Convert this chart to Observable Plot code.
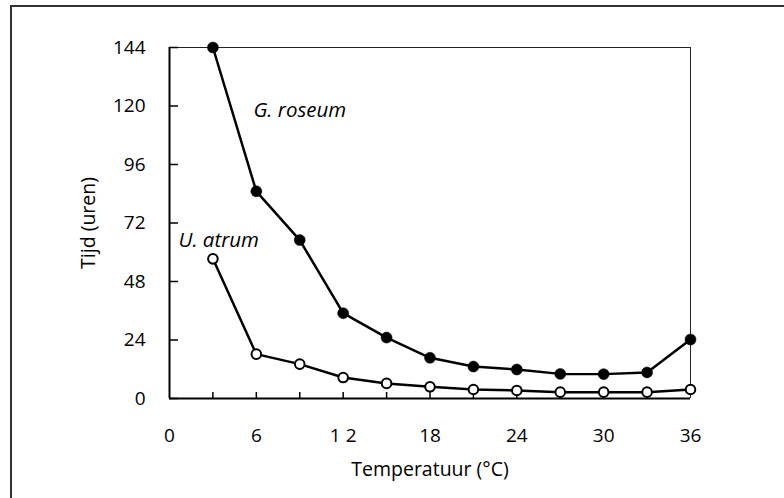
<!DOCTYPE html>
<html>
<head>
<meta charset="utf-8">
<script src="https://cdn.jsdelivr.net/npm/d3@7"></script>
<script src="https://cdn.jsdelivr.net/npm/@observablehq/plot@0.6"></script>
<style>
  html, body { margin: 0; padding: 0; background: #fff; overflow: hidden; }
  #wrap { position: relative; width: 784px; height: 498px; overflow: hidden; }
  #border { position: absolute; left: 10px; top: 5px; width: 900px; height: 700px;
            border-top: 2px solid #333; border-left: 2px solid #333; pointer-events: none; }
  #chart svg { display: block; }
</style>
</head>
<body>
<div id="wrap"><div id="chart"></div><div id="border"></div></div>
<script>
const temperature = [3, 6, 9, 12, 15, 18, 21, 24, 27, 30, 33, 36];
const gRoseum = [144, 85, 65, 35, 25, 16.7, 13.1, 11.9, 10.1, 10, 10.7, 24.2];
const uAtrum = [57.3, 18.2, 14.1, 8.6, 6.2, 4.8, 3.7, 3.3, 2.6, 2.6, 2.6, 3.7];
const xTicks = [0, 6, 12, 18, 24, 30, 36];
const xTickLabels = ["0", "6", "1 2", "18", "24", "30", "36"];
const xMinorTicks = [3, 6, 9, 12, 15, 18, 21, 24, 27, 30, 33];
const yTicks = [0, 24, 48, 72, 96, 120, 144];
const seriesLabels = [
  {name: "G. roseum", x: 5.8, y: 118},
  {name: "U. atrum", x: 0.62, y: 65}
];

const G = temperature.map((t, i) => ({t, v: gRoseum[i]}));
const U = temperature.map((t, i) => ({t, v: uAtrum[i]}));

const font = "'Open Sans', 'Noto Sans', sans-serif";

const chart = Plot.plot({
  width: 784,
  height: 498,
  marginLeft: 169,
  marginRight: 94,
  marginTop: 47,
  marginBottom: 100,
  style: {fontFamily: font, fontSize: "19px", color: "#000", background: "#fff"},
  x: {domain: [0, 36]},
  y: {domain: [0, 144]},
  marks: [
    Plot.ruleY([144], {stroke: "#222", strokeWidth: 1}),
    Plot.ruleX([36], {stroke: "#222", strokeWidth: 1}),
    Plot.tickX(xMinorTicks, {x: d => d, stroke: "#000", strokeWidth: 1.5, insetTop: 345}),
    Plot.tickY(yTicks, {y: d => d, stroke: "#000", strokeWidth: 1.5, insetRight: 512}),
    Plot.ruleY([0], {stroke: "#000", strokeWidth: 2}),
    Plot.ruleX([0], {stroke: "#000", strokeWidth: 2}),
    Plot.axisX(xTicks, {
      tickSize: 0, tickPadding: 30, fontSize: 19,
      tickFormat: (d) => xTickLabels[xTicks.indexOf(d)],
      label: "Temperatuur (°C)", labelAnchor: "center", labelArrow: "none", labelOffset: 77
    }),
    Plot.axisY(yTicks, {
      tickSize: 0, tickPadding: 24, fontSize: 19,
      label: "Tijd (uren)", labelAnchor: "center", labelArrow: "none", labelOffset: 88
    }),
    Plot.line(G, {x: "t", y: "v", stroke: "#000", strokeWidth: 2.5}),
    Plot.line(U, {x: "t", y: "v", stroke: "#000", strokeWidth: 2.5}),
    Plot.dot(G, {x: "t", y: "v", r: 5.5, fill: "#000", stroke: "#000", strokeWidth: 0.5}),
    Plot.dot(U, {x: "t", y: "v", r: 4.8, fill: "#fff", stroke: "#000", strokeWidth: 2}),
    Plot.text(seriesLabels, {x: "x", y: "y", text: "name", textAnchor: "start",
      fontStyle: "italic", fontSize: 20.5, fill: "#000"})
  ]
});
document.getElementById("chart").appendChild(chart);
chart.querySelectorAll("[aria-label='x-axis label'] text, [aria-label='y-axis label'] text")
  .forEach(t => t.setAttribute("font-size", "19.5"));
</script>
</body>
</html>
